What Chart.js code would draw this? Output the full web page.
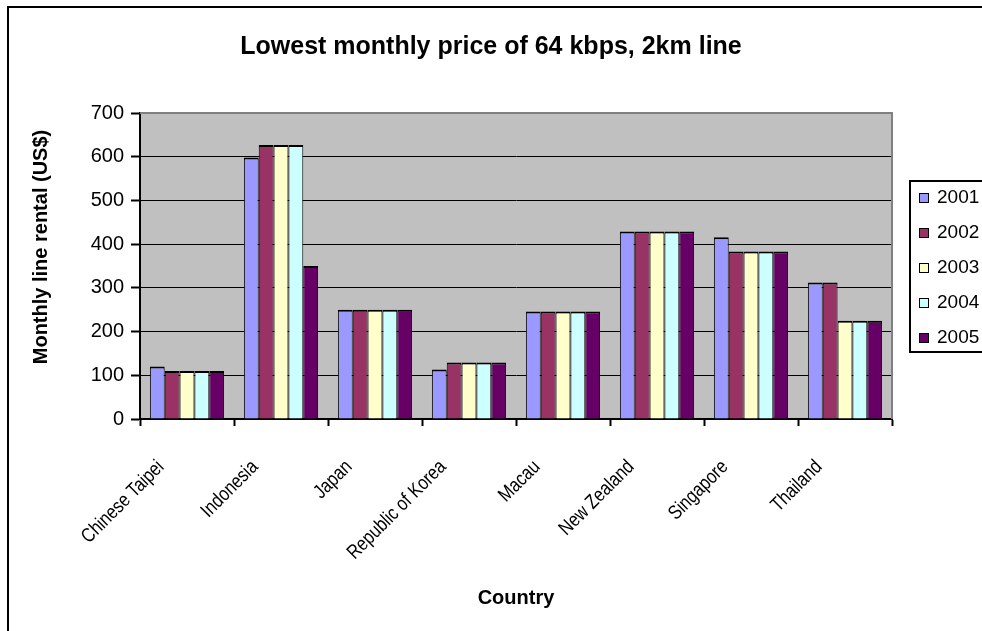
<!DOCTYPE html>
<html>
<head>
<meta charset="utf-8">
<title>Lowest monthly price of 64 kbps, 2km line</title>
<script src="https://cdn.jsdelivr.net/npm/chart.js@4/dist/chart.umd.min.js"></script>
<style>
  html, body { margin: 0; padding: 0; background: #fff; overflow: hidden; }
  #frame { position: absolute; left: 7px; top: 6px; width: 1100px; height: 700px;
           border: 2px solid #000; box-sizing: border-box; }
  #wrap { position: absolute; left: 0; top: 0; width: 982px; height: 631px; }
</style>
</head>
<body>
<div id="frame"></div>
<div id="wrap"><canvas id="c" width="982" height="631"></canvas></div>
<script>
// Lowest monthly rental (US$) of a 64 kbps, 2 km leased line, by economy and year
const countries = ['Chinese Taipei', 'Indonesia', 'Japan', 'Republic of Korea',
                   'Macau', 'New Zealand', 'Singapore', 'Thailand'];
const years = ['2001', '2002', '2003', '2004', '2005'];
const price2001 = [120, 598, 250, 113, 246, 429, 416, 312];
const price2002 = [110, 627, 250, 129, 246, 429, 383, 312];
const price2003 = [110, 627, 250, 129, 246, 429, 383, 225];
const price2004 = [110, 627, 250, 129, 246, 429, 383, 225];
const price2005 = [110, 350, 250, 129, 246, 429, 383, 225];
const yAxisMin = 0, yAxisMax = 700, yAxisStep = 100;

const seriesValues = [price2001, price2002, price2003, price2004, price2005];
const seriesColors = ['#9999FF', '#993366', '#FFFFCC', '#CCFFFF', '#660066'];

const FONT = '"Liberation Sans", Arial, Helvetica, sans-serif';

// grey plot area with a darker frame on top and right
const plotArea = {
  id: 'plotArea',
  beforeDraw(chart) {
    const { ctx, chartArea: a } = chart;
    ctx.save();
    ctx.fillStyle = '#C0C0C0';
    ctx.fillRect(a.left, a.top, a.right - a.left, a.bottom - a.top);
    ctx.restore();
  },
  afterDraw(chart) {
    const { ctx, chartArea: a } = chart;
    ctx.save();
    ctx.strokeStyle = '#808080';
    ctx.lineWidth = 2;
    ctx.beginPath();
    ctx.moveTo(a.left, a.top);
    ctx.lineTo(a.right, a.top);
    ctx.lineTo(a.right, a.bottom);
    ctx.stroke();
    ctx.restore();
  }
};

// slanted category names under the x axis
const slantedLabels = {
  id: 'slantedLabels',
  afterDraw(chart) {
    const { ctx } = chart;
    const xs = chart.scales.x;
    ctx.save();
    ctx.font = '20px ' + FONT;
    ctx.fillStyle = '#000';
    ctx.textAlign = 'right';
    ctx.textBaseline = 'middle';
    chart.data.labels.forEach((name, i) => {
      const x = xs.getPixelForValue(i) - 26;
      ctx.save();
      ctx.translate(x, xs.top + 45);
      ctx.rotate(-Math.PI / 4);
      ctx.scale(0.82, 1);
      ctx.fillText(name, 0, 0);
      ctx.restore();
    });
    ctx.restore();
  }
};

// vertical value-axis caption
const valueCaption = {
  id: 'valueCaption',
  afterDraw(chart) {
    const { ctx } = chart;
    ctx.save();
    ctx.font = 'bold 20px ' + FONT;
    ctx.fillStyle = '#000';
    ctx.textAlign = 'center';
    ctx.textBaseline = 'middle';
    ctx.translate(41, 247);
    ctx.rotate(-Math.PI / 2);
    ctx.fillText('Monthly line rental (US$)', 0, 0);
    ctx.restore();
  }
};

// boxed series key at the right
const seriesKey = {
  id: 'seriesKey',
  afterDraw(chart) {
    const { ctx } = chart;
    const left = 910, top = 181, step = 35;
    ctx.save();
    ctx.strokeStyle = '#000';
    ctx.lineWidth = 2;
    ctx.strokeRect(left, top, 200, 171);
    ctx.font = '19px ' + FONT;
    ctx.textAlign = 'left';
    ctx.textBaseline = 'middle';
    chart.data.datasets.forEach((ds, i) => {
      const cy = top + 17 + i * step;
      ctx.fillStyle = ds.backgroundColor;
      ctx.fillRect(919, cy - 5, 10, 10);
      ctx.lineWidth = 1;
      ctx.strokeStyle = '#000';
      ctx.strokeRect(919.5, cy - 4.5, 9, 9);
      ctx.fillStyle = '#000';
      ctx.fillText(ds.label, 937, cy);
    });
    ctx.restore();
  }
};

new Chart(document.getElementById('c'), {
  type: 'bar',
  data: {
    labels: countries,
    datasets: years.map((y, i) => ({
      label: y,
      data: seriesValues[i],
      backgroundColor: seriesColors[i],
      borderColor: '#000',
      borderWidth: { top: 2, left: 1, right: 1, bottom: 0 },
      borderSkipped: 'bottom'
    }))
  },
  options: {
    responsive: false,
    animation: false,
    devicePixelRatio: 1,
    layout: { padding: 0 },
    datasets: { bar: { categoryPercentage: 0.79, barPercentage: 1 } },
    plugins: {
      legend: { display: false },
      tooltip: { enabled: false },
      title: {
        display: true,
        text: 'Lowest monthly price of 64 kbps, 2km line',
        color: '#000',
        font: { family: FONT, size: 25, weight: 'bold' },
        padding: { top: 32, bottom: 51 }
      }
    },
    scales: {
      x: {
        offset: true,
        grid: { display: true, offset: true, drawOnChartArea: false, drawTicks: true,
                tickLength: 7, tickColor: '#000', tickWidth: 2 },
        border: { display: true, color: '#000', width: 2 },
        ticks: { display: false },
        title: { display: true, text: 'Country', color: '#000',
                 font: { family: FONT, size: 20, weight: 'bold' },
                 padding: { top: 0, bottom: 21 } },
        afterFit(s) { s.height = 212; }
      },
      y: {
        min: yAxisMin,
        max: yAxisMax,
        ticks: { stepSize: yAxisStep, color: '#000', padding: 7,
                 font: { family: FONT, size: 20 } },
        grid: { color: '#000', lineWidth: 1, drawTicks: true, tickLength: 9,
                tickColor: '#000', tickWidth: 2 },
        border: { display: true, color: '#000', width: 2 },
        afterFit(s) { s.width = 140; }
      },
      gap: {
        type: 'linear',
        position: 'right',
        grid: { display: false },
        border: { display: false },
        ticks: { display: false },
        afterFit(s) { s.width = 90; }
      }
    }
  },
  plugins: [plotArea, slantedLabels, valueCaption, seriesKey]
});
</script>
</body>
</html>
